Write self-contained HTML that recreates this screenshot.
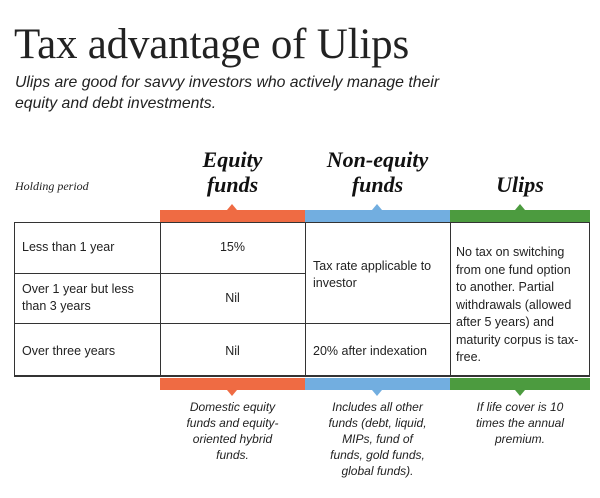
<!DOCTYPE html>
<html><head><meta charset="utf-8"><style>
body{margin:0;width:600px;height:498px;background:#fff;position:relative;overflow:hidden;font-family:"Liberation Sans",sans-serif;color:#222}
.a{position:absolute}
.h{font-family:"Liberation Serif",serif;font-weight:bold;font-style:italic;font-size:22px;line-height:25px;text-align:center;color:#111}
.cell{font-size:12.5px;line-height:17px;color:#222}
.foot{font-style:italic;font-size:12px;line-height:16px;text-align:center;color:#222}
.bar{height:12px}
.tri{width:0;height:0;border-left:5px solid transparent;border-right:5px solid transparent}
.ln{background:#333}
</style></head><body>
<div class="a" style="left:14px;top:20px;font-family:'Liberation Serif',serif;font-size:43px;font-weight:300;color:#222;letter-spacing:-0.2px">Tax advantage of Ulips</div>
<div class="a" style="left:15px;top:72px;font-style:italic;font-size:15.8px;line-height:21px;color:#222">Ulips are good for savvy investors who actively manage their<br>equity and debt investments.</div>

<div class="a" style="left:15px;top:179px;font-family:'Liberation Serif',serif;font-style:italic;font-size:12px">Holding period</div>
<div class="a h" style="left:160px;top:147px;width:145px">Equity<br>funds</div>
<div class="a h" style="left:290px;top:147px;width:175px">Non-equity<br>funds</div>
<div class="a h" style="left:450px;top:172px;width:140px">Ulips</div>

<div class="a bar" style="left:160px;top:210px;width:145px;background:#ef6b43"></div>
<div class="a bar" style="left:305px;top:210px;width:145px;background:#72aee0"></div>
<div class="a bar" style="left:450px;top:210px;width:140px;background:#4c9b3f"></div>
<div class="a tri" style="left:227px;top:204px;border-bottom:6px solid #ef6b43"></div>
<div class="a tri" style="left:372px;top:204px;border-bottom:6px solid #72aee0"></div>
<div class="a tri" style="left:515px;top:204px;border-bottom:6px solid #4c9b3f"></div>

<div class="a ln" style="left:14px;top:222px;width:576px;height:1px"></div>
<div class="a ln" style="left:14px;top:273px;width:291px;height:1px"></div>
<div class="a ln" style="left:14px;top:323px;width:436px;height:1px"></div>
<div class="a ln" style="left:14px;top:375px;width:576px;height:2px"></div>
<div class="a ln" style="left:14px;top:222px;width:1px;height:154px"></div>
<div class="a ln" style="left:160px;top:222px;width:1px;height:154px"></div>
<div class="a ln" style="left:305px;top:222px;width:1px;height:154px"></div>
<div class="a ln" style="left:450px;top:222px;width:1px;height:154px"></div>
<div class="a ln" style="left:589px;top:222px;width:1px;height:154px"></div>

<div class="a cell" style="left:22px;top:239px">Less than 1 year</div>
<div class="a cell" style="left:22px;top:281px">Over 1 year but less<br>than 3 years</div>
<div class="a cell" style="left:22px;top:343px">Over three years</div>
<div class="a cell" style="left:160px;top:239px;width:145px;text-align:center">15%</div>
<div class="a cell" style="left:160px;top:290px;width:145px;text-align:center">Nil</div>
<div class="a cell" style="left:160px;top:343px;width:145px;text-align:center">Nil</div>
<div class="a cell" style="left:313px;top:258px">Tax rate applicable to<br>investor</div>
<div class="a cell" style="left:313px;top:343px">20% after indexation</div>
<div class="a cell" style="left:456px;top:244px;line-height:17.5px">No tax on switching<br>from one fund option<br>to another. Partial<br>withdrawals (allowed<br>after 5 years) and<br>maturity corpus is tax-<br>free.</div>

<div class="a bar" style="left:160px;top:378px;width:145px;background:#ef6b43"></div>
<div class="a bar" style="left:305px;top:378px;width:145px;background:#72aee0"></div>
<div class="a bar" style="left:450px;top:378px;width:140px;background:#4c9b3f"></div>
<div class="a tri" style="left:227px;top:390px;border-top:6px solid #ef6b43"></div>
<div class="a tri" style="left:372px;top:390px;border-top:6px solid #72aee0"></div>
<div class="a tri" style="left:515px;top:390px;border-top:6px solid #4c9b3f"></div>

<div class="a foot" style="left:160px;top:399px;width:145px">Domestic equity<br>funds and equity-<br>oriented hybrid<br>funds.</div>
<div class="a foot" style="left:305px;top:399px;width:145px">Includes all other<br>funds (debt, liquid,<br>MIPs, fund of<br>funds, gold funds,<br>global funds).</div>
<div class="a foot" style="left:450px;top:399px;width:140px">If life cover is 10<br>times the annual<br>premium.</div>
</body></html>
